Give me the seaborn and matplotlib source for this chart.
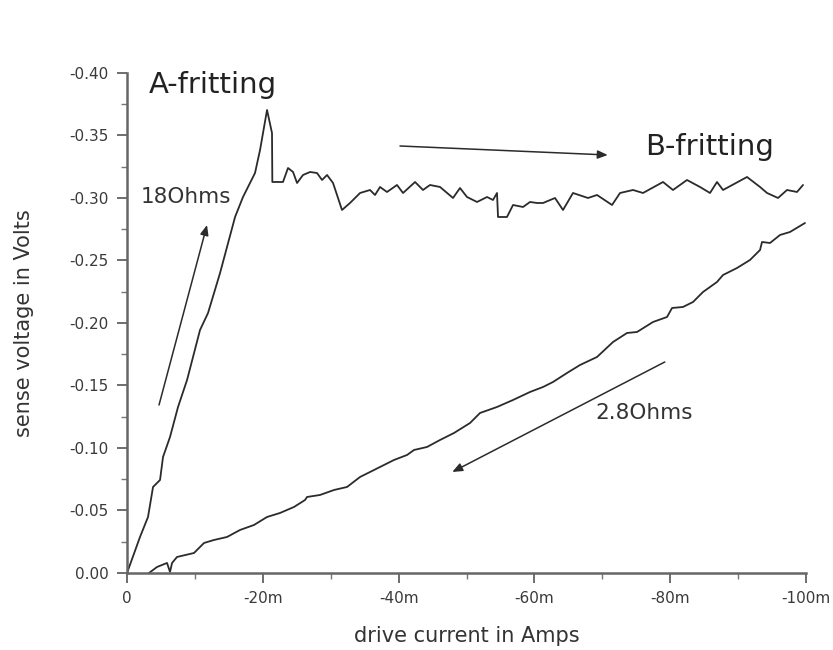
import numpy as np
import pandas as pd
import matplotlib
matplotlib.use("Agg")
import matplotlib.pyplot as plt
import seaborn as sns

# Forward sweep (A-fritting, then B-fritting plateau): drive current in mA, sense voltage in V
fwd_current_mA = [0, -0.69, -1.91, -3.09, -3.83, -4.86, -5.30, -6.33, -7.51, -8.84,
                  -10.75, -11.93, -13.70, -15.91, -17.08, -18.85, -19.59, -20.62, -21.35, -21.40,
                  -22.97, -23.71, -24.45, -25.04, -25.92, -26.95, -27.98, -28.72, -29.46, -30.34,
                  -31.66, -32.84, -34.32, -35.79, -36.52, -37.26, -38.29, -39.76, -40.65, -42.42,
                  -43.59, -44.62, -46.10, -48.01, -49.04, -50.07, -51.55, -53.02, -53.90, -54.49,
                  -54.64, -55.96, -56.85, -58.32, -59.35, -60.38, -61.27, -63.03, -64.21, -65.68,
                  -67.89, -69.22, -71.43, -72.61, -74.52, -75.99, -78.94, -80.41, -82.47, -84.39,
                  -85.86, -86.89, -87.78, -91.31, -93.23, -94.26, -95.88, -97.20, -98.67, -99.56]
fwd_voltage_V = [0, -0.0104, -0.0288, -0.0448, -0.0688, -0.0744, -0.0928, -0.1088, -0.1328, -0.1544,
                 -0.1944, -0.2080, -0.2400, -0.2848, -0.3008, -0.3200, -0.3384, -0.3704, -0.3520, -0.3128,
                 -0.3128, -0.3240, -0.3208, -0.3120, -0.3184, -0.3208, -0.3200, -0.3144, -0.3184, -0.3120,
                 -0.2904, -0.2960, -0.3040, -0.3064, -0.3024, -0.3088, -0.3048, -0.3104, -0.3040, -0.3128,
                 -0.3064, -0.3104, -0.3088, -0.3000, -0.3080, -0.3008, -0.2968, -0.3008, -0.2984, -0.3040,
                 -0.2848, -0.2848, -0.2944, -0.2928, -0.2968, -0.2960, -0.2960, -0.3000, -0.2904, -0.3040,
                 -0.3000, -0.3024, -0.2944, -0.3040, -0.3064, -0.3040, -0.3128, -0.3064, -0.3144, -0.3088,
                 -0.3040, -0.3128, -0.3064, -0.3168, -0.3088, -0.3040, -0.3000, -0.3064, -0.3048, -0.3104]

# Return sweep (2.8 Ohms), from -100 mA back towards zero
ret_current_mA = [-99.85, -97.64, -96.17, -94.70, -93.52, -93.23, -91.75, -89.84, -87.78, -86.89,
                  -84.83, -83.36, -81.88, -80.27, -79.53, -77.47, -75.11, -73.64, -71.58, -69.22,
                  -66.72, -64.80, -62.74, -61.27, -59.35, -56.85, -54.49, -51.99, -50.52, -48.16,
                  -46.10, -44.18, -42.27, -41.24, -39.32, -37.26, -36.38, -34.32, -32.40, -30.49,
                  -28.42, -26.51, -26.22, -24.59, -22.53, -20.62, -18.70, -16.64, -14.73, -12.81,
                  -11.34, -10.60, -9.87, -7.36, -6.63, -6.33, -5.89, -4.42, -3.24]
ret_voltage_V = [-0.2800, -0.2728, -0.2704, -0.2640, -0.2648, -0.2584, -0.2504, -0.2440, -0.2384, -0.2328,
                 -0.2248, -0.2168, -0.2128, -0.2120, -0.2048, -0.2008, -0.1928, -0.1920, -0.1848, -0.1728,
                 -0.1664, -0.1600, -0.1528, -0.1488, -0.1448, -0.1384, -0.1328, -0.1280, -0.1200, -0.1120,
                 -0.1064, -0.1008, -0.0984, -0.0944, -0.0904, -0.0848, -0.0824, -0.0768, -0.0688, -0.0664,
                 -0.0624, -0.0608, -0.0584, -0.0528, -0.0480, -0.0448, -0.0384, -0.0344, -0.0288, -0.0264,
                 -0.0240, -0.0200, -0.0160, -0.0128, -0.0080, -0.0008, -0.0080, -0.0048, 0.0]

x_ticks = [0, -20, -40, -60, -80, -100]
x_tick_labels = ["0", "-20m", "-40m", "-60m", "-80m", "-100m"]
y_ticks = [0.0, -0.05, -0.10, -0.15, -0.20, -0.25, -0.30, -0.35, -0.40]
y_tick_labels = ["0.00", "-0.05", "-0.10", "-0.15", "-0.20", "-0.25", "-0.30", "-0.35", "-0.40"]

sns.set_style("ticks")
plt.rcParams["font.family"] = ["DejaVu Sans"]

ink = "#2b2b2b"
fig = plt.figure(figsize=(8.33, 6.5), dpi=100)
ax = fig.add_axes([0.1525, 0.1185, 0.8151, 0.7692])

df = pd.concat([
    pd.DataFrame({"current": fwd_current_mA, "voltage": fwd_voltage_V, "sweep": "forward"}),
    pd.DataFrame({"current": ret_current_mA, "voltage": ret_voltage_V, "sweep": "return"}),
], ignore_index=True)

sns.lineplot(data=df, x="current", y="voltage", units="sweep", estimator=None, sort=False,
             color=ink, lw=1.3, legend=False, ax=ax)

ax.set_xlim(0, -100)
ax.set_ylim(0, -0.40)
ax.set_xticks(x_ticks)
ax.set_xticklabels(x_tick_labels)
ax.set_yticks(y_ticks)
ax.set_yticklabels(y_tick_labels)
ax.set_xticks([-10, -30, -50, -70, -90], minor=True)
ax.set_yticks([-0.025, -0.075, -0.125, -0.175, -0.225, -0.275, -0.325, -0.375], minor=True)

for side in ("top", "right"):
    ax.spines[side].set_visible(False)
for side in ("left", "bottom"):
    ax.spines[side].set_color("#666666")
    ax.spines[side].set_linewidth(1.8)

ax.tick_params(which="major", length=7, width=1.2, color="#555555", labelsize=11,
               labelcolor="#3a3a3a", pad=6)
ax.tick_params(which="minor", length=4, width=1.0, color="#777777")

ax.set_xlabel("drive current in Amps", fontsize=15, color="#333333")
ax.set_ylabel("sense voltage in Volts", fontsize=15, color="#333333")
ax.xaxis.set_label_coords(0.5, -0.106)
ax.yaxis.set_label_coords(-0.137, 0.5)

# annotations
ax.text(-12.67, -0.3904, "A-fritting", fontsize=21, color="#222222", ha="center", va="center")
ax.text(-85.86, -0.3408, "B-fritting", fontsize=21, color="#222222", ha="center", va="center")
ax.text(-8.69, -0.3008, "18Ohms", fontsize=15.5, color="#333333", ha="center", va="center")
ax.text(-76.14, -0.1280, "2.8Ohms", fontsize=15.5, color="#333333", ha="center", va="center")

arrow_kw = dict(arrowstyle="-|>,head_length=0.6,head_width=0.25", color=ink, lw=1.1,
                shrinkA=0, shrinkB=0)
ax.annotate("", xy=(-11.78, -0.2784), xytext=(-4.71, -0.1344), arrowprops=arrow_kw)
ax.annotate("", xy=(-70.8, -0.3344), xytext=(-40.2, -0.3416), arrowprops=arrow_kw)
ax.annotate("", xy=(-47.9, -0.0808), xytext=(-79.2, -0.1688), arrowprops=arrow_kw)

fig.savefig("out.png", dpi=100)
